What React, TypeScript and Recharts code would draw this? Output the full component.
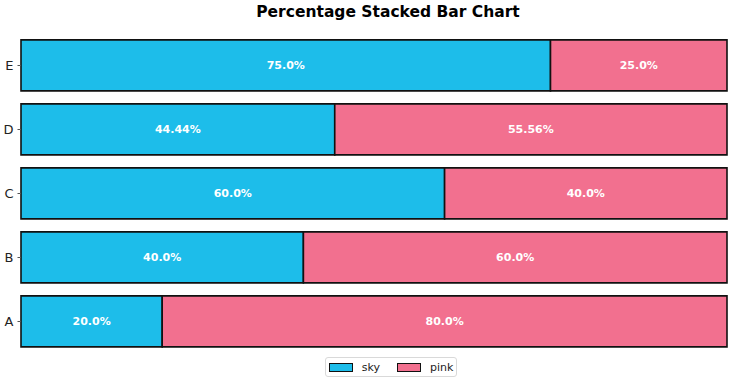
import React from "react";
import { BarChart, Bar, XAxis, YAxis, LabelList } from "recharts";

const categories = ["A", "B", "C", "D", "E"];
const skyValues = [20.0, 40.0, 60.0, 44.44, 75.0];
const pinkValues = [80.0, 60.0, 40.0, 55.56, 25.0];
const seriesNames = ["sky", "pink"];
const title = "Percentage Stacked Bar Chart";

const SKY = "#1dbdea";
const PINK = "#f2708f";
const FONT = "'DejaVu Sans', sans-serif";

const data = categories.map((c, i) => ({ name: c, sky: skyValues[i], pink: pinkValues[i] }));

const fmt = (v: any) => {
  const s = String(Math.round(Number(v) * 100) / 100);
  return (s.includes(".") ? s : s + ".0") + "%";
};

const LegendBox = () => (
  <div
    style={{
      position: "absolute",
      left: 325,
      top: 357,
      width: 132,
      height: 20,
      boxSizing: "border-box",
      display: "flex",
      alignItems: "center",
      justifyContent: "center",
      border: "1px solid #d9d9d9",
      borderRadius: 3,
      fontFamily: FONT,
      fontSize: 11,
      color: "#222",
      background: "#fff",
    }}
  >
    {seriesNames.map((n, i) => (
      <div key={n} style={{ display: "flex", alignItems: "center", marginLeft: i === 0 ? 0 : 17 }}>
        <div
          style={{
            width: 22,
            height: 7,
            background: i === 0 ? SKY : PINK,
            border: "1.5px solid #111",
            marginRight: 9,
          }}
        />
        <span>{n}</span>
      </div>
    ))}
  </div>
);

export default function App() {
  return (
    <div style={{ position: "absolute", left: 0, top: 0, width: 735, height: 382, background: "#fff" }}>
      <div
        style={{
          position: "absolute",
          left: 388 - 200,
          width: 400,
          top: 3,
          textAlign: "center",
          fontFamily: FONT,
          fontWeight: "bold",
          fontSize: 15.5,
          color: "#000",
        }}
      >
        {title}
      </div>
      <BarChart
        width={735}
        height={382}
        data={data}
        layout="vertical"
        margin={{ top: 33.5, right: 8, bottom: 28.5, left: 0 }}
        barCategoryGap="10%"
      >
        <XAxis type="number" domain={[0, 100]} hide />
        <YAxis
          type="category"
          dataKey="name"
          reversed
          width={21}
          axisLine={false}
          tickSize={3.5}
          tickMargin={4}
          tickLine={{ stroke: "#555" }}
          tick={{ fill: "#222", fontSize: 13, fontFamily: FONT }}
        />
        <Bar dataKey="sky" stackId="s" fill={SKY} stroke="#111" strokeWidth={1.6} isAnimationActive={false}>
          <LabelList
            dataKey="sky"
            position="center"
            formatter={fmt}
            fill="#fff"
            style={{ fontWeight: "bold", fontSize: 11, fontFamily: FONT }}
          />
        </Bar>
        <Bar dataKey="pink" stackId="s" fill={PINK} stroke="#111" strokeWidth={1.6} isAnimationActive={false}>
          <LabelList
            dataKey="pink"
            position="center"
            formatter={fmt}
            fill="#fff"
            style={{ fontWeight: "bold", fontSize: 11, fontFamily: FONT }}
          />
        </Bar>
      </BarChart>
      <LegendBox />
    </div>
  );
}
